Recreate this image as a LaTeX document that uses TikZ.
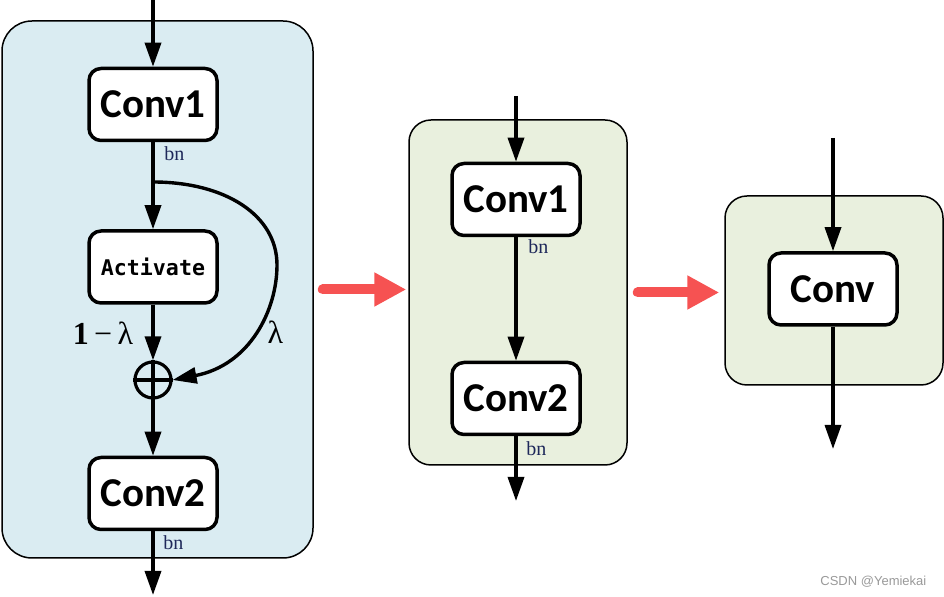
\documentclass[tikz,border=0pt]{standalone}
\usepackage{fontspec}
\usepackage{xcolor}
\usetikzlibrary{arrows.meta,calc,positioning}
\newfontfamily\blockfont{Carlito}
\newfontfamily\codefont{DejaVu Sans Mono}
\newfontfamily\greekfont{Liberation Serif}
\newfontfamily\markfont{Liberation Sans}
\definecolor{panelblue}{RGB}{218,236,242}
\definecolor{panelgreen}{RGB}{233,240,222}
\definecolor{arrowred}{RGB}{246,82,82}
\definecolor{bnblue}{RGB}{30,40,90}

\begin{document}
\begin{tikzpicture}[x=0.5pt,y=-0.5pt,
	panel/.style={draw=black, line width=0.75pt, rounded corners=11pt, inner sep=0pt},
	block/.style={draw=black, fill=white, line width=1.75pt, rounded corners=6pt, minimum width=64pt, minimum height=36pt, inner sep=0pt, font=\blockfont\bfseries\fontsize{20.5}{24}\selectfont},
	flow/.style={line width=1.7pt, -{Triangle[length=12pt,width=8pt]}},
	bnlabel/.style={font=\greekfont\fontsize{10}{11}\selectfont, text=bnblue, inner sep=0pt, anchor=west},
	weight/.style={font=\greekfont\fontsize{16}{18}\selectfont, inner sep=0pt},
	mergearrow/.style={draw=arrowred, line width=5pt, line cap=round, -{Triangle[length=16pt,width=16pt]}}]
	\useasboundingbox (0,0) rectangle (944,597);
	% panels
	\node [panel, fill=panelblue, rounded corners=15pt, minimum width=155.5pt, minimum height=268.5pt] (pa) at (157.5,289.5) {};
	\node [panel, fill=panelgreen, minimum width=109pt, minimum height=172.5pt] (pb) at (518,292.5) {};
	\node [panel, fill=panelgreen, minimum width=109pt, minimum height=94.5pt] (pc) at (834,290.5) {};
	% first block
	\coordinate (ain) at (153,0);
	\node [block] (aconv1) at (153,104.5) {Conv1};
	\node [block, font=\codefont\bfseries\fontsize{10.8}{12}\selectfont] (aact) at (153,267) {Activate};
	\node [circle, draw=black, line width=1.6pt, minimum size=18pt, inner sep=0pt] (sum) at (153,380) {};
	\node [block] (aconv2) at (153,493.5) {Conv2};
	\coordinate (split) at (153,182);
	\coordinate (aout) at (153,595);
	\node [bnlabel] (bna1) at (164,154) {bn};
	\node [bnlabel] (bna2) at (163,543) {bn};
	\node [weight] (wa) at (103,333) {\textbf{1}\,−\,λ};
	\node [weight] (wb) at (275.5,332) {λ};
	\draw [flow] (ain) -- (aconv1);
	\draw [flow] (aconv1) -- (aact);
	\draw [flow] (aact) -- (sum);
	\draw [line width=1.6pt] (sum.north) -- (sum.south) (sum.west) -- (sum.east);
	\draw [flow] (split) .. controls (225,182) and (277,215) .. (277,265) .. controls (277,310) and (250,365) .. (sum.east);
	\draw [flow] (sum) -- (aconv2);
	\draw [flow] (aconv2) -- (aout);
	% second block
	\coordinate (bin) at (516,96);
	\node [block] (bconv1) at (516,199.5) {Conv1};
	\node [block] (bconv2) at (516,398.5) {Conv2};
	\coordinate (bout) at (516,501);
	\node [bnlabel] (bnb1) at (528,247) {bn};
	\node [bnlabel] (bnb2) at (526,449) {bn};
	\draw [flow] (bin) -- (bconv1);
	\draw [flow] (bconv1) -- (bconv2);
	\draw [flow] (bconv2) -- (bout);
	% third block
	\coordinate (cin) at (833,138);
	\node [block] (cconv) at (833,289) {Conv};
	\coordinate (cout) at (833,449);
	\draw [flow] (cin) -- (cconv);
	\draw [flow] (cconv) -- (cout);
	% merging arrows
	\draw [mergearrow] ($(pa.east)+(9,0)$) -- ($(pb.west |- pa.east)+(-2,0)$);
	\draw [mergearrow] ($(pb.east)+(10,0)$) -- ($(pc.west |- pb.east)+(-5,0)$);
	\node [anchor=west, text=gray!80, font=\markfont\fontsize{6.5}{8}\selectfont, inner sep=0pt] (mark) at (820,582) {CSDN @Yemiekai};
\end{tikzpicture}
\end{document}
